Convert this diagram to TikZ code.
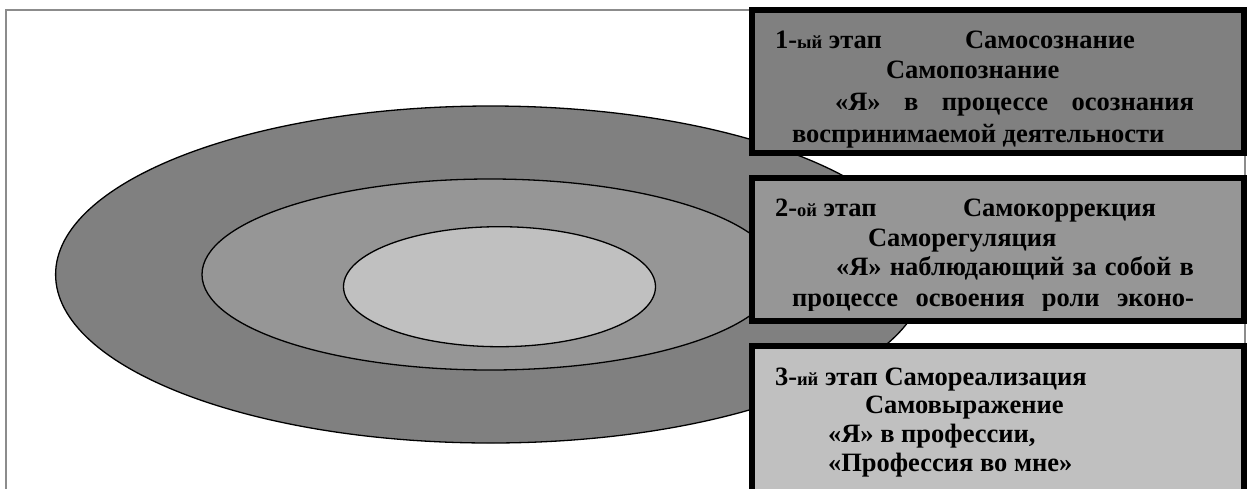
\documentclass[tikz,border=0pt]{standalone}
\usepackage{fontspec}
\setmainfont{Liberation Serif}
\definecolor{gA}{HTML}{808080}
\definecolor{gB}{HTML}{969696}
\definecolor{gC}{HTML}{C0C0C0}
\definecolor{frm}{HTML}{8C8C8C}
\tikzset{
  ln/.style={anchor=base west, inner sep=0pt, outer sep=0pt, font=\bfseries\fontsize{26.5}{30}\selectfont},
  stagebox/.style={line width=6pt, draw=black},
  ring/.style={draw=black, line width=1.3pt},
}
\newcommand{\smtxt}[1]{{\fontsize{18.5}{20}\selectfont #1}}
\begin{document}
\begin{tikzpicture}[x=1pt,y=-1pt]
\useasboundingbox (0,0) rectangle (1252,488);
\begin{scope}
\clip (0,0) rectangle (1252,488);
\fill[white] (0,0) rectangle (1252,488);
\draw[frm, line width=1.5pt] (6,500) -- (6,10) -- (1245,10) -- (1245,500);
% rings
\draw[ring, fill=gA] (490.6,274.5) ellipse [x radius=435, y radius=168.5];
\draw[ring, fill=gB] (490,274.5) ellipse [x radius=288, y radius=95.5];
\draw[ring, fill=gC] (499.5,286.7) ellipse [x radius=156, y radius=60];
% box 1
\fill[gA] (752,10) rectangle (1244,153);
\begin{scope}
\clip (755,13) rectangle (1241,147);
\node[ln] (t11) at (775,48) {\makebox[190pt][l]{1-\smtxt{ый} этап}Самосознание};
\node[ln] (t12) at (886,78) {Самопознание};
\node[ln] (t13) at (835,110) {\makebox[359pt][s]{«Я» в процессе осознания}};
\node[ln] (t14) at (792,142) {воспринимаемой деятельности};
\end{scope}
\draw[stagebox] (752,10) rectangle (1244,153);
% box 2
\fill[gB] (752,178) rectangle (1244,321);
\begin{scope}
\clip (755,181) rectangle (1241,310);
\node[ln] (t21) at (775,216) {\makebox[188pt][l]{2-\smtxt{ой} этап}Самокоррекция};
\node[ln] (t22) at (868,246) {Саморегуляция};
\node[ln] (t23) at (836,275) {\makebox[358pt][s]{«Я» наблюдающий за собой в}};
\node[ln] (t24) at (792,306) {\makebox[402pt][s]{процессе освоения роли эконо-}};
\end{scope}
\draw[stagebox] (752,178) rectangle (1244,321);
% box 3
\fill[gC] (752,346) rectangle (1244,510);
\begin{scope}
\clip (755,349) rectangle (1241,477);
\node[ln] (t31) at (775,385) {3-\smtxt{ий} этап Самореализация};
\node[ln] (t32) at (865,413) {Самовыражение};
\node[ln] (t33) at (828,442) {«Я» в профессии,};
\node[ln] (t34) at (828,471) {«Профессия во мне»};
\end{scope}
\draw[stagebox] (752,346) rectangle (1244,510);
\end{scope}
\end{tikzpicture}
\end{document}
